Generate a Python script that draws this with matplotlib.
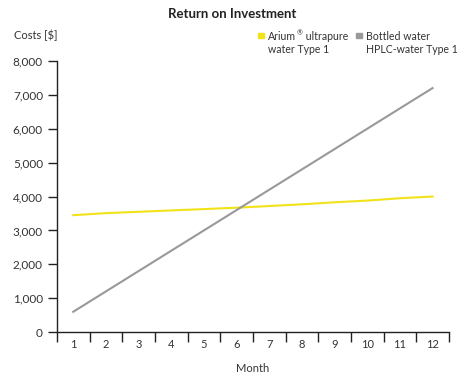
import matplotlib.pyplot as plt
from matplotlib.ticker import FuncFormatter, FixedLocator

plt.rcParams['font.family'] = ['Lato', 'DejaVu Sans']

months = list(range(1, 13))
arium = [3450, 3510, 3550, 3590, 3630, 3670, 3720, 3770, 3830, 3880, 3950, 4000]
bottled = [600, 1200, 1800, 2400, 3000, 3600, 4200, 4800, 5400, 6000, 6600, 7200]
y_ticks = [0, 1000, 2000, 3000, 4000, 5000, 6000, 7000, 8000]

text_color = '#333333'

fig = plt.figure(figsize=(4.74, 3.74), dpi=100)
ax = fig.add_axes([0.120, 0.112, 0.827, 0.725])

ax.plot(months, arium, color='#f2e21a', linewidth=1.5)
ax.plot(months, bottled, color='#999999', linewidth=1.5)

ax.set_xlim(0.5, 12.5)
ax.set_ylim(0, 8000)
ax.set_yticks(y_ticks)
ax.yaxis.set_major_formatter(FuncFormatter(lambda v, p: f'{int(v):,}'))

# month labels centred in bins, tick marks on the bin borders
ax.set_xticks(months)
ax.xaxis.set_minor_locator(FixedLocator([m + 0.5 for m in range(0, 13)]))
ax.tick_params(axis='x', which='major', length=0, pad=5, labelsize=8, colors=text_color)
ax.tick_params(axis='x', which='minor', length=7, width=1, color='#222222')
ax.tick_params(axis='y', length=6.5, width=1, color='#222222', labelsize=8.5,
               labelcolor=text_color, pad=3.5)

for side in ['top', 'right']:
    ax.spines[side].set_visible(False)
for side in ['left', 'bottom']:
    ax.spines[side].set_color('#222222')
    ax.spines[side].set_linewidth(1)

ax.set_xlabel('Month', fontsize=8, color=text_color, labelpad=9)

fig.text(0.49, 0.963, 'Return on Investment', ha='center', va='center',
         fontsize=9.5, fontweight='bold', color='#222222')
fig.text(0.03, 0.906, 'Costs [$]', ha='left', va='center', fontsize=8, color=text_color)

# legend drawn by hand
renderer = fig.canvas.get_renderer()
fs = 7.6
row1, row2 = 0.906, 0.869

def piece(x, y, s, size=fs):
    t = fig.text(x, y, s, ha='left', va='center_baseline', fontsize=size, color=text_color)
    bb = t.get_window_extent(renderer)
    return x + bb.width / fig.bbox.width

fig.patches.append(plt.Rectangle((0.545, 0.899), 0.011, 0.014, color='#f2e21a',
                                 transform=fig.transFigure, figure=fig))
x = piece(0.566, row1, 'Arium')
x = piece(x + 0.001, row1 + 0.008, '\u00ae', size=5)
piece(x, row1, ' ultrapure')
piece(0.566, row2, 'water Type 1')

fig.patches.append(plt.Rectangle((0.752, 0.899), 0.011, 0.014, color='#999999',
                                 transform=fig.transFigure, figure=fig))
piece(0.773, row1, 'Bottled water')
piece(0.773, row2, 'HPLC-water Type 1')

fig.savefig('out.png', dpi=100)
